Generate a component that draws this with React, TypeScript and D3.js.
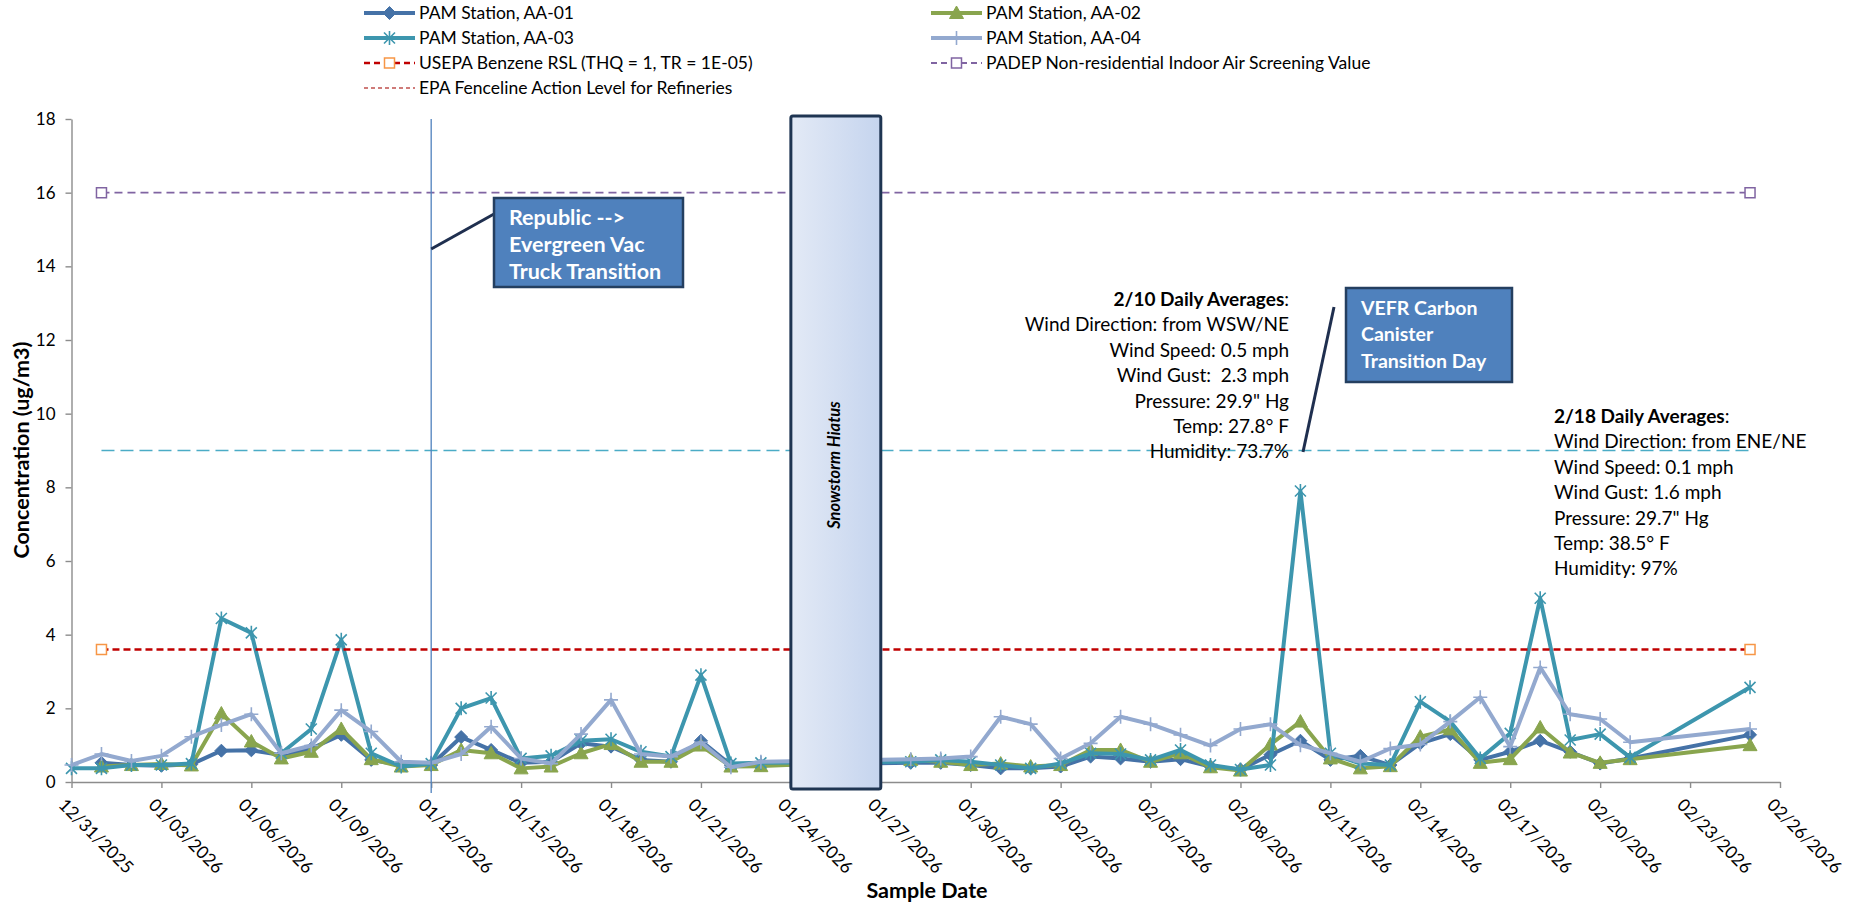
import React, { useRef, useEffect } from 'react';
import * as d3 from 'd3';

// sample dates (daily, with the snowstorm gap and a gap before the last sample)
const sampleDates = [
  "2025-12-31", "2026-01-01", "2026-01-02", "2026-01-03", "2026-01-04", "2026-01-05",
  "2026-01-06", "2026-01-07", "2026-01-08", "2026-01-09", "2026-01-10", "2026-01-11",
  "2026-01-12", "2026-01-13", "2026-01-14", "2026-01-15", "2026-01-16", "2026-01-17",
  "2026-01-18", "2026-01-19", "2026-01-20", "2026-01-21", "2026-01-22", "2026-01-23",
  "2026-01-28", "2026-01-29", "2026-01-30", "2026-01-31", "2026-02-01", "2026-02-02",
  "2026-02-03", "2026-02-04", "2026-02-05", "2026-02-06", "2026-02-07", "2026-02-08",
  "2026-02-09", "2026-02-10", "2026-02-11", "2026-02-12", "2026-02-13", "2026-02-14",
  "2026-02-15", "2026-02-16", "2026-02-17", "2026-02-18", "2026-02-19", "2026-02-20",
  "2026-02-21", "2026-02-25"
];

const aa01 = [
  null, 0.52, 0.46, 0.44, 0.48, 0.85, 0.86, 0.73, 0.91, 1.28, 0.60, 0.46,
  0.46, 1.22, 0.87, 0.52, 0.55, 1.05, 0.96, 0.60, 0.55, 1.12, 0.46, 0.46,
  0.52, 0.52, 0.46, 0.37, 0.37, 0.42, 0.69, 0.64, 0.55, 0.62, 0.42, 0.34,
  0.74, 1.12, 0.60, 0.71, 0.46, 1.05, 1.30, 0.60, 0.82, 1.12, 0.82, 0.50,
  0.64, 1.28
];
const aa02 = [
  null, 0.42, 0.46, 0.49, 0.45, 1.86, 1.10, 0.64, 0.82, 1.44, 0.62, 0.42,
  0.46, 0.87, 0.78, 0.37, 0.42, 0.78, 1.03, 0.55, 0.55, 0.99, 0.42, 0.43,
  0.60, 0.55, 0.46, 0.50, 0.42, 0.46, 0.87, 0.87, 0.55, 0.78, 0.40, 0.31,
  1.02, 1.64, 0.64, 0.37, 0.43, 1.23, 1.43, 0.52, 0.62, 1.48, 0.80, 0.52,
  0.62, 1.00
];
const aa03 = [
  0.37, 0.37, 0.46, 0.46, 0.50, 4.44, 4.05, 0.78, 1.44, 3.86, 0.78, 0.42,
  0.50, 2.00, 2.28, 0.64, 0.71, 1.12, 1.16, 0.82, 0.69, 2.90, 0.50, 0.52,
  0.55, 0.60, 0.55, 0.46, 0.37, 0.50, 0.78, 0.76, 0.60, 0.87, 0.46, 0.34,
  0.46, 7.90, 0.78, 0.50, 0.46, 2.18, 1.64, 0.64, 1.32, 4.99, 1.14, 1.30,
  0.67, 2.57
];
const aa04 = [
  0.46, 0.76, 0.57, 0.71, 1.23, 1.55, 1.84, 0.78, 0.99, 1.95, 1.37, 0.55,
  0.52, 0.76, 1.50, 0.64, 0.50, 1.30, 2.23, 0.76, 0.69, 1.08, 0.40, 0.55,
  0.62, 0.64, 0.69, 1.77, 1.57, 0.64, 1.05, 1.77, 1.57, 1.28, 0.99, 1.44,
  1.57, 1.00, 0.78, 0.55, 0.91, 1.02, 1.64, 2.30, 0.96, 3.11, 1.84, 1.71,
  1.08, 1.44
];

// screening levels, drawn between two dates
const refDates = ["2026-01-01", "2026-02-25"];
const rslValue = 3.6;
const padepValue = 16;
const fencelineValue = 9;

const yTicks = [0, 2, 4, 6, 8, 10, 12, 14, 16, 18];
const axisStart = "2025-12-31";
const axisEnd = "2026-02-26";

const transitionDate = "2026-01-12";
const hiatusDates = ["2026-01-24", "2026-01-27"];

const republicLines = ["Republic -->", "Evergreen Vac", "Truck Transition"];
const vefrLines = ["VEFR Carbon", "Canister", "Transition Day"];
const feb10Head = "2/10 Daily Averages";
const feb10Lines = [
  "Wind Direction: from WSW/NE", "Wind Speed: 0.5 mph", "Wind Gust:  2.3 mph",
  "Pressure: 29.9\" Hg", "Temp: 27.8\u00b0 F", "Humidity: 73.7%"
];
const feb18Head = "2/18 Daily Averages";
const feb18Lines = [
  "Wind Direction: from ENE/NE", "Wind Speed: 0.1 mph", "Wind Gust: 1.6 mph",
  "Pressure: 29.7\" Hg", "Temp: 38.5\u00b0 F", "Humidity: 97%"
];

const parse = d3.utcParse("%Y-%m-%d");
const font = "Lato, 'Open Sans', sans-serif";

const markerPaths = {
  diamond: "M0,-6.5L6.5,0L0,6.5L-6.5,0Z",
  triangle: "M0,-7L7,5.5L-7,5.5Z",
  asterisk: "M-5.5,-5.5L5.5,5.5M-5.5,5.5L5.5,-5.5M0,-7V7",
  plus: "M-7,0H7M0,-7V7",
  square: "M-5,-5H5V5H-5Z"
};

const series = [
  { name: "PAM Station, AA-01", values: aa01, color: "#4572A7", marker: "diamond", filled: true },
  { name: "PAM Station, AA-02", values: aa02, color: "#89A54E", marker: "triangle", filled: true },
  { name: "PAM Station, AA-03", values: aa03, color: "#3D96AE", marker: "asterisk", filled: false },
  { name: "PAM Station, AA-04", values: aa04, color: "#93A9CF", marker: "plus", filled: false }
];

function App() {
  const svgRef = useRef(null);

  useEffect(() => {
    const svg = d3.select(svgRef.current);
    svg.selectAll("*").remove();

    const x = d3.scaleUtc()
      .domain([parse(axisStart), parse(axisEnd)])
      .range([71.5, 1780]);
    const y = d3.scaleLinear().domain([0, 18]).range([782, 119]);

    const defs = svg.append("defs");
    const grad = defs.append("linearGradient").attr("id", "hiatus").attr("x1", 0).attr("x2", 1).attr("y1", 0).attr("y2", 0);
    grad.append("stop").attr("offset", "0%").attr("stop-color", "#E3EAF6");
    grad.append("stop").attr("offset", "100%").attr("stop-color", "#C5D4EE");

    // Axes
    const xTicks = d3.utcDay.range(parse(axisStart), d3.utcDay.offset(parse(axisEnd), 1), 3);
    const xAxis = svg.append("g")
      .attr("transform", `translate(0, ${y(0)})`)
      .call(d3.axisBottom(x).tickValues(xTicks).tickSize(6).tickSizeOuter(0).tickFormat(() => ""));
    xAxis.selectAll("path, line").attr("stroke", "#8c8c8c").attr("stroke-width", 1.4);

    const fmt = d3.utcFormat("%m/%d/%Y");
    svg.append("g").selectAll("text")
      .data(xTicks)
      .enter()
      .append("text")
      .attr("transform", d => `translate(${x(d) - 14}, ${y(0) + 24}) rotate(45)`)
      .attr("font-family", font)
      .attr("font-size", 17.5)
      .attr("fill", "#000")
      .text(d => fmt(d));

    const yAxis = svg.append("g")
      .attr("transform", `translate(${x(parse(axisStart))}, 0)`)
      .call(d3.axisLeft(y).tickValues(yTicks).tickSize(6).tickSizeOuter(0).tickPadding(10));
    yAxis.selectAll("path, line").attr("stroke", "#8c8c8c").attr("stroke-width", 1.4);
    yAxis.selectAll("text").attr("font-family", font).attr("font-size", 17).attr("fill", "#000");

    // Axis titles
    svg.append("text")
      .attr("transform", "translate(21, 450) rotate(-90)")
      .attr("dy", "0.35em")
      .attr("text-anchor", "middle")
      .attr("font-family", font)
      .attr("font-weight", "bold")
      .attr("font-size", 21.5)
      .text("Concentration (ug/m3)");

    svg.append("text")
      .attr("x", 927)
      .attr("y", 898)
      .attr("text-anchor", "middle")
      .attr("font-family", font)
      .attr("font-weight", "bold")
      .attr("font-size", 21.5)
      .text("Sample Date");

    // Data series
    const pts = (vals) => sampleDates.map((d, i) => ({ date: parse(d), v: vals[i] })).filter(p => p.v !== null);
    const line = d3.line().x(p => x(p.date)).y(p => y(p.v));

    series.forEach(s => {
      const data = pts(s.values);
      svg.append("path")
        .attr("d", line(data))
        .attr("fill", "none")
        .attr("stroke", s.color)
        .attr("stroke-width", 4)
        .attr("stroke-linejoin", "round");
      svg.append("g").selectAll("path")
        .data(data)
        .enter()
        .append("path")
        .attr("transform", p => `translate(${x(p.date)}, ${y(p.v)})`)
        .attr("d", markerPaths[s.marker])
        .attr("fill", s.filled ? s.color : "none")
        .attr("stroke", s.color)
        .attr("stroke-width", s.filled ? 1 : 1.6);
    });

    // Screening levels
    const refX = refDates.map(d => x(parse(d)));
    const refLine = (v, color, width, dash) => {
      svg.append("line")
        .attr("x1", refX[0]).attr("x2", refX[1])
        .attr("y1", y(v)).attr("y2", y(v))
        .attr("stroke", color)
        .attr("stroke-width", width)
        .attr("stroke-dasharray", dash);
    };
    refLine(fencelineValue, "#4BACC6", 1.5, "13,6");
    refLine(rslValue, "#C00000", 2.5, "7,4");
    refLine(padepValue, "#8064A2", 1.6, "8,5");
    [[rslValue, "#F79646"], [padepValue, "#8064A2"]].forEach(([v, c]) => {
      refX.forEach(px => {
        svg.append("path")
          .attr("transform", `translate(${px}, ${y(v)})`)
          .attr("d", markerPaths.square)
          .attr("fill", "#fff")
          .attr("stroke", c)
          .attr("stroke-width", 1.5);
      });
    });

    // Transition marker line
    const tx = x(parse(transitionDate));
    svg.append("line")
      .attr("x1", tx).attr("x2", tx)
      .attr("y1", y(18)).attr("y2", y(0) + 11)
      .attr("stroke", "#4F81BD")
      .attr("stroke-width", 1.3);

    // Snowstorm hiatus box
    const hx0 = x(parse(hiatusDates[0]));
    const hx1 = x(parse(hiatusDates[1]));
    svg.append("rect")
      .attr("x", hx0).attr("y", y(18) - 3)
      .attr("width", hx1 - hx0).attr("height", y(0) + 7 - (y(18) - 3))
      .attr("rx", 2)
      .attr("fill", "url(#hiatus)")
      .attr("stroke", "#1F3552")
      .attr("stroke-width", 3);
    svg.append("text")
      .attr("transform", `translate(${(hx0 + hx1) / 2 - 2}, 465) rotate(-90)`)
      .attr("dy", "0.35em")
      .attr("text-anchor", "middle")
      .attr("font-family", font)
      .attr("font-weight", "bold")
      .attr("font-style", "italic")
      .attr("font-size", 16.5)
      .text("Snowstorm Hiatus");

    // Callouts
    const callout = (bx, by, bw, bh, lines, size, gap, lead) => {
      svg.append("line")
        .attr("x1", lead[0]).attr("y1", lead[1])
        .attr("x2", lead[2]).attr("y2", lead[3])
        .attr("stroke", "#1F2F4F")
        .attr("stroke-width", 3);
      svg.append("rect")
        .attr("x", bx).attr("y", by).attr("width", bw).attr("height", bh)
        .attr("fill", "#4F81BD")
        .attr("stroke", "#243F60")
        .attr("stroke-width", 2.5);
      lines.forEach((t, i) => {
        svg.append("text")
          .attr("x", bx + 15).attr("y", by + 27 + i * gap)
          .attr("font-family", font)
          .attr("font-weight", "bold")
          .attr("font-size", size)
          .attr("fill", "#fff")
          .text(t);
      });
    };
    callout(494, 198, 189, 89, republicLines, 21.5, 26.8, [tx, 249, 494, 214]);
    callout(1346, 288, 166, 94, vefrLines, 19.5, 26.3, [1334, 307, 1303, 452]);

    // Weather notes
    const note = (nx, ny, anchor, head, lines) => {
      const t = svg.append("text")
        .attr("x", nx).attr("y", ny)
        .attr("text-anchor", anchor)
        .attr("font-family", font)
        .attr("font-size", 19);
      t.append("tspan").attr("font-weight", "bold").text(head);
      t.append("tspan").text(":");
      lines.forEach((l, i) => {
        svg.append("text")
          .attr("x", nx).attr("y", ny + (i + 1) * 25.4)
          .attr("text-anchor", anchor)
          .attr("font-family", font)
          .attr("font-size", 19)
          .style("white-space", "pre")
          .text(l);
      });
    };
    note(1289, 306, "end", feb10Head, feb10Lines);
    note(1554, 423, "start", feb18Head, feb18Lines);

    // Legend
    const legendItems = [
      { label: series[0].name, col: 0, row: 0, kind: "series", s: series[0] },
      { label: series[1].name, col: 1, row: 0, kind: "series", s: series[1] },
      { label: series[2].name, col: 0, row: 1, kind: "series", s: series[2] },
      { label: series[3].name, col: 1, row: 1, kind: "series", s: series[3] },
      { label: "USEPA Benzene RSL (THQ = 1, TR = 1E-05)", col: 0, row: 2, kind: "ref", color: "#C00000", mark: "#F79646", width: 2.5 },
      { label: "PADEP Non-residential Indoor Air Screening Value", col: 1, row: 2, kind: "ref", color: "#8064A2", mark: "#8064A2", width: 1.8 },
      { label: "EPA Fenceline Action Level for Refineries", col: 0, row: 3, kind: "plain", color: "#C0504D", width: 1.5 }
    ];
    const colX = [364, 931];
    const rowY = [13, 38, 63, 88];
    legendItems.forEach(it => {
      const lx = colX[it.col];
      const ly = rowY[it.row];
      const g = svg.append("g");
      if (it.kind === "series") {
        g.append("line").attr("x1", lx).attr("x2", lx + 51).attr("y1", ly).attr("y2", ly)
          .attr("stroke", it.s.color).attr("stroke-width", 4);
        g.append("path").attr("transform", `translate(${lx + 25.5}, ${ly})`)
          .attr("d", markerPaths[it.s.marker])
          .attr("fill", it.s.filled ? it.s.color : "none")
          .attr("stroke", it.s.color)
          .attr("stroke-width", it.s.filled ? 1 : 1.6);
      } else if (it.kind === "ref") {
        g.append("line").attr("x1", lx).attr("x2", lx + 51).attr("y1", ly).attr("y2", ly)
          .attr("stroke", it.color).attr("stroke-width", it.width).attr("stroke-dasharray", "6,4");
        g.append("path").attr("transform", `translate(${lx + 25.5}, ${ly})`)
          .attr("d", markerPaths.square)
          .attr("fill", "#fff").attr("stroke", it.mark).attr("stroke-width", 1.5);
      } else {
        g.append("line").attr("x1", lx).attr("x2", lx + 51).attr("y1", ly).attr("y2", ly)
          .attr("stroke", it.color).attr("stroke-width", it.width).attr("stroke-dasharray", "4,3");
      }
      g.append("text")
        .attr("x", lx + 55).attr("y", ly + 6)
        .attr("font-family", font)
        .attr("font-size", 17.5)
        .text(it.label);
    });
  }, []);

  return (
    <svg
      ref={svgRef}
      width={1868}
      height={907}
      style={{ position: "absolute", left: 0, top: 0, background: "#fff" }}
    ></svg>
  );
}

export default App;
